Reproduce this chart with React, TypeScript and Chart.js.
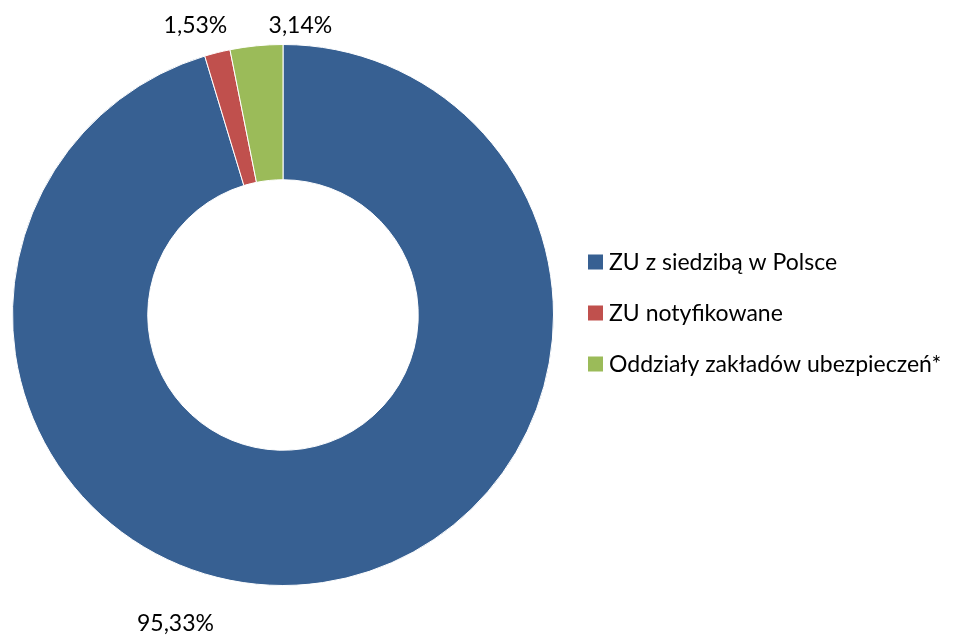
import React, { useEffect, useRef } from "react";
import { Chart, registerables } from "chart.js";

Chart.register(...registerables);

const categories = ["ZU z siedzibą w Polsce", "ZU notyfikowane", "Oddziały zakładów ubezpieczeń*"];
const values = [95.33, 1.53, 3.14];
const valueLabels = ["95,33%", "1,53%", "3,14%"];
const colors = ["#376092", "#C0504D", "#9BBB59"];

const FONT = "Lato, 'Open Sans', sans-serif";

const labelPlugin = {
  id: "customLabels",
  afterDatasetsDraw(chart: any, _args: any, opts: any) {
    const ctx = chart.ctx;
    const meta = chart.getDatasetMeta(0);
    ctx.save();
    ctx.font = `${opts.size}px ${FONT}`;
    ctx.fillStyle = "#000";
    ctx.textAlign = "center";
    ctx.textBaseline = "middle";
    meta.data.forEach((arc: any, i: number) => {
      const p = arc.getProps(["x", "y", "startAngle", "endAngle", "outerRadius"], true);
      const mid = (p.startAngle + p.endAngle) / 2;
      const r = p.outerRadius + 20;
      const off = opts.offsets[i] || [0, 0];
      const x = p.x + Math.cos(mid) * r + off[0];
      const y = p.y + Math.sin(mid) * r + off[1];
      ctx.fillText(valueLabels[i], x, y);
    });
    ctx.restore();
  },
};

const legendPlugin = {
  id: "customLegend",
  afterDraw(chart: any, _args: any, opts: any) {
    const ctx = chart.ctx;
    const labels = chart.data.labels as string[];
    const bg = chart.data.datasets[0].backgroundColor as string[];
    ctx.save();
    ctx.font = `${opts.size}px ${FONT}`;
    ctx.textAlign = "left";
    ctx.textBaseline = "middle";
    labels.forEach((lab, i) => {
      const cy = opts.top + i * opts.spacing;
      ctx.fillStyle = bg[i];
      ctx.fillRect(opts.left, cy - opts.box / 2, opts.box, opts.box);
      ctx.fillStyle = "#000";
      ctx.fillText(lab, opts.left + opts.box + 6, cy + 1);
    });
    ctx.restore();
  },
};

export default function App() {
  const ref = useRef<HTMLCanvasElement>(null);
  useEffect(() => {
    if (!ref.current) return;
    const chart = new Chart(ref.current, {
      type: "doughnut",
      data: {
        labels: categories,
        datasets: [
          {
            data: values,
            backgroundColor: colors,
            borderColor: "#ffffff",
            borderWidth: 1,
          },
        ],
      },
      options: {
        animation: false,
        responsive: false,
        cutout: "50%",
        layout: { padding: { left: 12, top: 44, right: 411, bottom: 51 } },
        plugins: {
          legend: { display: false },
          tooltip: { enabled: false },
          customLabels: { size: 23, offsets: [[-150, 21], [-17, -8], [46, 0]] },
          customLegend: { left: 588, top: 262, spacing: 51, box: 15, size: 23 },
        } as any,
      },
      plugins: [labelPlugin, legendPlugin],
    });
    return () => chart.destroy();
  }, []);
  return (
    <div style={{ position: "fixed", left: 0, top: 0, width: 965, height: 637, background: "#fff" }}>
      <canvas ref={ref} width={965} height={637} style={{ width: 965, height: 637 }} />
    </div>
  );
}
